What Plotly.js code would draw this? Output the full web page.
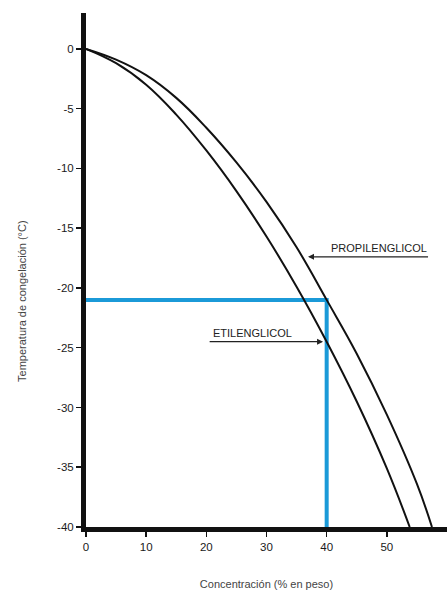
<!DOCTYPE html>
<html>
<head>
<meta charset="utf-8">
<script src="https://cdn.plot.ly/plotly-3.0.1.min.js"></script>
<style>html,body{margin:0;padding:0;background:#fff;}#chart{width:447px;height:590px;}</style>
</head>
<body>
<div id="chart"></div>
<script>
// Concentración (% en peso) vs temperatura de congelación (°C)
const etilX = [0, 5, 10, 15, 20, 25, 30, 35, 40, 45, 50, 53.8];
const etilY = [0, -1.2, -3.0, -5.5, -8.5, -11.9, -15.7, -19.9, -24.5, -29.5, -35.1, -40];
const propX = [0, 5, 10, 15, 20, 25, 30, 35, 40, 45, 50, 55, 57.5];
const propY = [0, -0.9, -2.2, -4.1, -6.6, -9.5, -12.8, -16.6, -21.0, -25.5, -30.6, -36.4, -40];
// lectura marcada en azul: 40 % -> -21 °C
const readX = [0, 40, 40];
const readY = [-21, -21, -40];
const xTicks = [0, 10, 20, 30, 40, 50];
const yTicks = [0, -5, -10, -15, -20, -25, -30, -35, -40];
const labels = ["PROPILENGLICOL", "ETILENGLICOL"];

const fontFam = "Liberation Sans, Arial, sans-serif";

const traces = [
  {x: readX, y: readY, mode: "lines", line: {color: "#1b9ad8", width: 4}, hoverinfo: "skip", showlegend: false},
  {x: etilX, y: etilY, mode: "lines", line: {color: "#111", width: 2, shape: "spline", smoothing: 1.2}, name: labels[1], showlegend: false},
  {x: propX, y: propY, mode: "lines", line: {color: "#111", width: 2, shape: "spline", smoothing: 1.2}, name: labels[0], showlegend: false}
];

const layout = {
  width: 447, height: 590,
  margin: {l: 86, r: 0, t: 13, b: 63},
  paper_bgcolor: "#fff", plot_bgcolor: "#fff",
  font: {family: fontFam, color: "#222", size: 11},
  xaxis: {
    range: [0, 60], tickvals: xTicks, ticktext: xTicks.map(String),
    showgrid: false, zeroline: false, showline: true, linecolor: "#111", linewidth: 5,
    ticks: "outside", ticklen: 5, tickwidth: 1.5, tickcolor: "#111",
    tickfont: {size: 11.5, color: "#1a1a1a", family: fontFam},
    title: {text: "Concentración (% en peso)", font: {size: 11, color: "#444", family: fontFam}, standoff: 36}
  },
  yaxis: {
    range: [-40, 3], tickvals: yTicks, ticktext: yTicks.map(v => v === 0 ? "0" : "-" + Math.abs(v)),
    showgrid: false, zeroline: false, showline: true, linecolor: "#111", linewidth: 5,
    ticks: "outside", ticklen: 5, tickwidth: 1.5, tickcolor: "#111",
    tickfont: {size: 11.5, color: "#1a1a1a", family: fontFam}
  },
  annotations: [
    {xref: "paper", yref: "paper", x: -0.177, y: 0.44, xanchor: "center", yanchor: "middle",
     text: "Temperatura de congelación (°C)", textangle: -90,
     showarrow: false, font: {size: 11, color: "#444", family: fontFam}},
    // propilenglicol label with leader arrow
    {x: 36.9, y: -17.4, ax: 57.1, ay: -17.4, axref: "x", ayref: "y", xref: "x", yref: "y", text: "",
     showarrow: true, arrowhead: 2, arrowsize: 1, arrowwidth: 1.2, arrowcolor: "#222"},
    {x: 48.7, y: -17.4, xref: "x", yref: "y", yanchor: "bottom", yshift: 1, text: labels[0], showarrow: false,
     font: {size: 11, color: "#222", family: fontFam}},
    // etilenglicol label with leader arrow
    {x: 39.4, y: -24.5, ax: 20.3, ay: -24.5, axref: "x", ayref: "y", xref: "x", yref: "y", text: "",
     showarrow: true, arrowhead: 2, arrowsize: 1, arrowwidth: 1.2, arrowcolor: "#222"},
    {x: 27.6, y: -24.5, xref: "x", yref: "y", yanchor: "bottom", yshift: 1, text: labels[1], showarrow: false,
     font: {size: 11, color: "#222", family: fontFam}}
  ]
};

Plotly.newPlot("chart", traces, layout, {displayModeBar: false, staticPlot: true});
</script>
</body>
</html>
